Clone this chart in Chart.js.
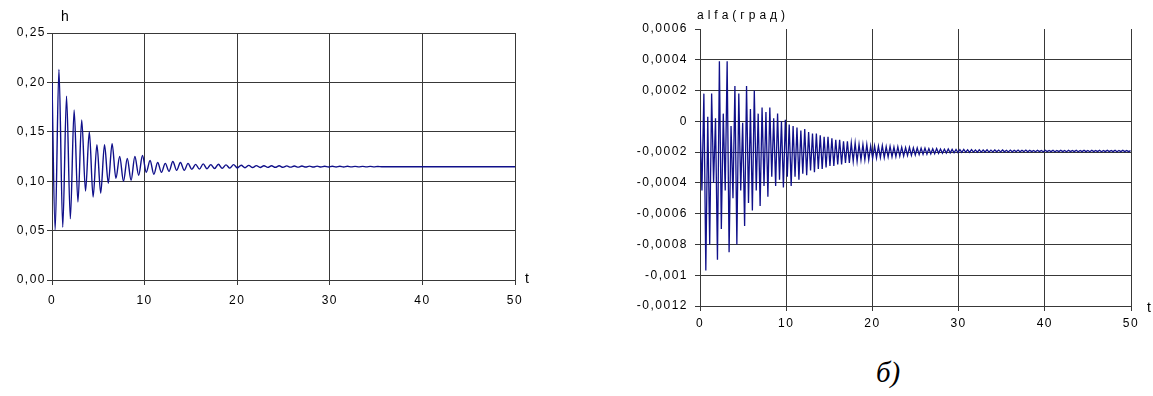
<!DOCTYPE html>
<html>
<head>
<meta charset="utf-8">
<script src="https://cdn.jsdelivr.net/npm/chart.js@4"></script>
<style>
  html, body { margin: 0; padding: 0; background: #ffffff; }
  body { width: 1153px; height: 396px; position: relative; overflow: hidden; font-family: "Liberation Sans", Arial, sans-serif; }
  canvas { position: absolute; }
  #hChart { left: 0; top: 0; }
  #alfaChart { left: 590px; top: 0; }
  .lbl { position: absolute; color: #000; white-space: nowrap; }
  #hTitle { left: 61px; top: 8.6px; font-size: 14px; line-height: 14px; }
  #alfaTitle { left: 697px; top: 8.8px; font-size: 12px; line-height: 12px; letter-spacing: 4px; }
  #tLeft { left: 525px; top: 271px; font-size: 14px; line-height: 14px; }
  #tRight { left: 1147px; top: 300px; font-size: 14px; line-height: 14px; }
  #panelMark { left: 876px; top: 358px; font-family: "Liberation Serif", "Times New Roman", serif; font-style: italic; font-size: 29px; line-height: 29px; }
</style>
</head>
<body>
<canvas id="hChart" width="560" height="330"></canvas>
<canvas id="alfaChart" width="563" height="340"></canvas>
<div class="lbl" id="hTitle">h</div>
<div class="lbl" id="alfaTitle">alfa(град)</div>
<div class="lbl" id="tLeft">t</div>
<div class="lbl" id="tRight">t</div>
<div class="lbl" id="panelMark">б)</div>
<script>
// time axis (both panels)
const tTicks = [0, 10, 20, 30, 40, 50];
const tLabels = ['0', '10', '20', '30', '40', '50'];

// h axis
const hYTicks = [0, 0.05, 0.10, 0.15, 0.20, 0.25];
const hYLabels = ['0,00', '0,05', '0,10', '0,15', '0,20', '0,25'];

// alfa axis
const alfaYTicks = [-0.0012, -0.001, -0.0008, -0.0006, -0.0004, -0.0002, 0, 0.0002, 0.0004, 0.0006];
const alfaYLabels = ['-0,0012', '-0,001', '-0,0008', '-0,0006', '-0,0004', '-0,0002', '0', '0,0002', '0,0004', '0,0006'];

// h(t): initial value, then successive extrema (trough, peak, ...) every hHalfPeriod seconds
const hInitial = { t: 0, v: 0.200 };
const hFirstExtremumT = 0.34;
const hHalfPeriod = 0.41;
const hExtrema = [
  0.0505, 0.213, 0.0535, 0.186, 0.062, 0.172, 0.079, 0.162, 0.090, 0.150,
  0.084, 0.137, 0.088, 0.137, 0.098, 0.138, 0.103, 0.125, 0.100, 0.123,
  0.101, 0.125, 0.106, 0.126, 0.109, 0.121, 0.107, 0.119, 0.109, 0.118,
  0.110, 0.120, 0.111, 0.119, 0.111, 0.118, 0.112, 0.117, 0.1122, 0.1175,
  0.1125, 0.1168, 0.1128, 0.1172, 0.1130, 0.1165, 0.1132, 0.1168, 0.1134, 0.1162,
  0.1136, 0.1160, 0.1138, 0.1158, 0.1139, 0.1157, 0.1140, 0.1156, 0.1141, 0.1156,
  0.1141, 0.1155, 0.1142, 0.1154, 0.1142, 0.1154, 0.1143, 0.1153, 0.1143, 0.1153,
  0.1143, 0.1152, 0.1144, 0.1152, 0.1144, 0.1151, 0.1144, 0.1151, 0.1145, 0.1150,
  0.1145, 0.1150, 0.1145, 0.1150, 0.1145, 0.1149, 0.1146
];
const hSteady = { t: 50, v: 0.1147 };

// alfa(t), sampled every alfaStep seconds from t = 0
const alfaStep = 0.225;
const alfaValues = [
  0.0000, -0.00045, 0.00018, -0.00097, 0.00003, -0.00080, 0.00018, -0.00040, 0.00002, -0.00090,
  0.00039, -0.00070, 0.00005, -0.00045, 0.00039, -0.00085, -0.00003, -0.00050, 0.00023, -0.00080,
  0.00018, -0.00045, -0.00001, -0.00068, 0.00023, -0.00053, 0.00008, -0.00058, 0.00020, -0.00045,
  0.00005, -0.00055, 0.00009, -0.00042, 0.00006, -0.00049, 0.00009, -0.00036, 0.00002, -0.00042,
  0.00005, -0.00038, 0.00000, -0.00043, 0.00001, -0.00036, -0.00002, -0.00042, -0.00003, -0.00036,
  -0.00004, -0.00038, -0.00006, -0.00034, -0.00005, -0.00035, -0.00007, -0.00032, -0.00008, -0.00033,
  -0.00008, -0.00031, -0.00009, -0.00031, -0.00010, -0.00030, -0.00010, -0.00029, -0.00011, -0.00029,
  -0.00012, -0.00028, -0.00012, -0.00028, -0.00013, -0.00027, -0.00013, -0.00027, -0.00014, -0.00026,
  -0.00014, -0.00026, -0.00015, -0.00025, -0.00015, -0.00025, -0.00015, -0.00025, -0.00016, -0.00024,
  -0.000160, -0.000238, -0.000162, -0.000235, -0.000158, -0.000236, -0.000165, -0.000232, -0.000163, -0.000230,
  -0.000167, -0.000229, -0.000165, -0.000226, -0.000168, -0.000225, -0.000170, -0.000222, -0.000169, -0.000221,
  -0.000172, -0.000219, -0.000173, -0.000216, -0.000175, -0.000214, -0.000174, -0.000213, -0.000177, -0.000211,
  -0.000178, -0.000210, -0.000177, -0.000208, -0.000180, -0.000207, -0.000181, -0.000206, -0.000180, -0.000205,
  -0.000182, -0.000204, -0.000183, -0.000203,
  -0.000184, -0.000202, -0.000183, -0.000201, -0.000185, -0.000202, -0.000184, -0.000200, -0.000186, -0.000201,
  -0.000185, -0.000200, -0.000186, -0.000199, -0.000185, -0.000200, -0.000187, -0.000199, -0.000186, -0.000198,
  -0.000187, -0.000199, -0.000186, -0.000198, -0.000188, -0.000199, -0.000187, -0.000198, -0.000188, -0.000197,
  -0.000187, -0.000198, -0.000188, -0.000197, -0.000187, -0.000198, -0.000188, -0.000197, -0.000189, -0.000198,
  -0.000188, -0.000197, -0.000189, -0.000198, -0.000188, -0.000197, -0.000189, -0.000197, -0.000188, -0.000198,
  -0.000189, -0.000197, -0.000188, -0.000197, -0.000189, -0.000198, -0.000188, -0.000197, -0.000189, -0.000197,
  -0.000188, -0.000198, -0.000189, -0.000197, -0.000188, -0.000197, -0.000189, -0.000198, -0.000188, -0.000197,
  -0.000189, -0.000197, -0.000188, -0.000198, -0.000189, -0.000197, -0.000188, -0.000197, -0.000189, -0.000197,
  -0.000188, -0.000198, -0.000189, -0.000197, -0.000188, -0.000197, -0.000189, -0.000197, -0.000190
];

const LINE_COLOR = '#10108a';
const GRID_COLOR = '#383838';
const TEXT_COLOR = '#000000';
const TICK_FONT = { family: '"Liberation Sans", Arial, sans-serif', size: 12 };

const hPoints = [{ x: hInitial.t, y: hInitial.v }]
  .concat(hExtrema.map((v, k) => ({ x: hFirstExtremumT + k * hHalfPeriod, y: v })))
  .concat([{ x: hSteady.t, y: hSteady.v }]);

const alfaPoints = alfaValues.map((v, i) => ({ x: i * alfaStep, y: v }));

function fixedTicks(values) {
  return scale => { scale.ticks = values.map(v => ({ value: v })); };
}

function letterSpacingPlugin(spacing) {
  return {
    id: 'letterSpacing',
    beforeLayout(chart) { chart.ctx.letterSpacing = spacing; },
    beforeDraw(chart) { chart.ctx.letterSpacing = spacing; }
  };
}

function lineDataset(points, width, smooth) {
  return {
    data: points,
    borderColor: LINE_COLOR,
    borderWidth: width,
    pointRadius: 0,
    tension: smooth ? 0.4 : 0,
    cubicInterpolationMode: smooth ? 'monotone' : 'default',
    fill: false
  };
}

function timeAxis(labelPadding) {
  return {
    type: 'linear',
    min: 0,
    max: 50,
    afterBuildTicks: fixedTicks(tTicks),
    afterFit: s => { s.height = 30; },
    ticks: {
      callback: (v, i) => tLabels[i],
      font: TICK_FONT,
      color: TEXT_COLOR,
      padding: labelPadding,
      maxRotation: 0,
      autoSkip: false
    },
    grid: { color: GRID_COLOR, lineWidth: 1, tickLength: 5, tickColor: GRID_COLOR },
    border: { color: GRID_COLOR, width: 1 }
  };
}

// panel with h(t)
new Chart(document.getElementById('hChart'), {
  type: 'line',
  data: { datasets: [lineDataset(hPoints, 1.4, true)] },
  plugins: [letterSpacingPlugin('1.5px')],
  options: {
    responsive: false,
    animation: false,
    events: [],
    layout: { padding: { left: 0, top: 33, right: 45, bottom: 20 } },
    plugins: { legend: { display: false }, tooltip: { enabled: false } },
    scales: {
      x: timeAxis(8),
      y: {
        type: 'linear',
        min: 0,
        max: 0.25,
        afterBuildTicks: fixedTicks(hYTicks),
        afterFit: s => { s.width = 52; },
        ticks: { callback: (v, i) => hYLabels[i], font: TICK_FONT, color: TEXT_COLOR, padding: 1 },
        grid: { color: GRID_COLOR, lineWidth: 1, tickLength: 5, tickColor: GRID_COLOR },
        border: { color: GRID_COLOR, width: 1 }
      }
    }
  }
});

// panel with alfa(t)
new Chart(document.getElementById('alfaChart'), {
  type: 'line',
  data: { datasets: [lineDataset(alfaPoints, 1.3, false)] },
  plugins: [letterSpacingPlugin('1.5px')],
  options: {
    responsive: false,
    animation: false,
    events: [],
    layout: { padding: { left: 0, top: 29, right: 22, bottom: 4 } },
    plugins: { legend: { display: false }, tooltip: { enabled: false } },
    scales: {
      x: timeAxis(5),
      y: {
        type: 'linear',
        min: -0.0012,
        max: 0.0006,
        afterBuildTicks: fixedTicks(alfaYTicks),
        afterFit: s => { s.width = 110; },
        ticks: { callback: (v, i) => alfaYLabels[i], font: TICK_FONT, color: TEXT_COLOR, padding: 7 },
        grid: {
          color: ctx => (ctx.index === alfaYTicks.length - 1 ? 'rgba(0,0,0,0)' : GRID_COLOR),
          lineWidth: 1,
          tickLength: 5,
          tickColor: GRID_COLOR
        },
        border: { color: GRID_COLOR, width: 1 }
      }
    }
  }
});
</script>
</body>
</html>
